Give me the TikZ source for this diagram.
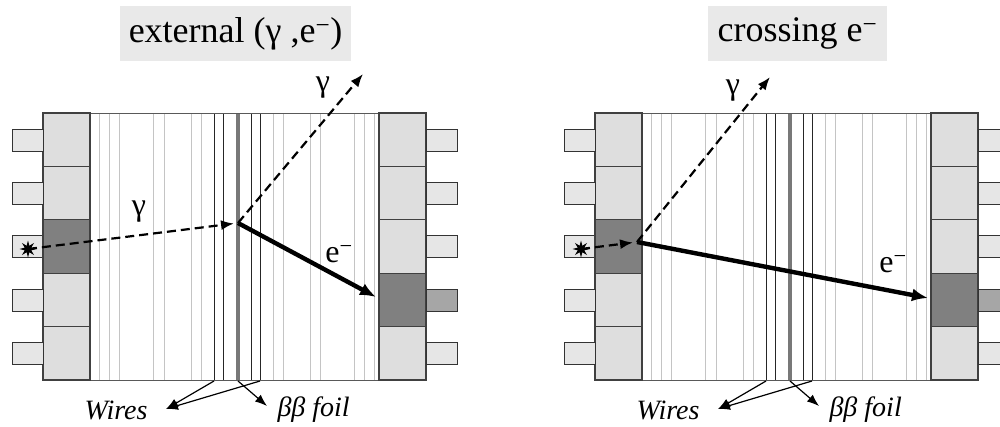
\documentclass[tikz,border=0pt]{standalone}
\usepackage{fontspec}
\setmainfont{Liberation Serif}
\usetikzlibrary{shapes.geometric,arrows.meta}

\definecolor{boxgray}{HTML}{E9E9E9}
\definecolor{blockgray}{HTML}{DEDEDE}
\definecolor{hitgray}{HTML}{808080}
\definecolor{pmtgray}{HTML}{E6E6E6}
\definecolor{pmthit}{HTML}{A6A6A6}
\definecolor{wiregray}{HTML}{C4C4C4}
\definecolor{foilgray}{HTML}{787878}

\tikzset{
  block/.style={draw=black!75, line width=1.1pt, fill=blockgray},
  pmt/.style={draw=black!80, line width=1pt, fill=pmtgray},
  wire/.style={wiregray, line width=0.8pt},
  darkwire/.style={black!85, line width=0.5pt},
  gammaray/.style={dash pattern=on 9pt off 5pt, line width=2.2pt, -{Latex[length=13pt,width=10pt]}},
  electron/.style={line width=4.4pt, -{Latex[length=16pt,width=13pt]}},
  pointer/.style={line width=1.2pt, -{Latex[length=12pt,width=9pt]}},
  titlebox/.style={fill=boxgray, minimum height=55pt, inner sep=0pt, font=\fontsize{36}{40}\selectfont},
  partlabel/.style={font=\fontsize{32}{34}\selectfont},
  partname/.style={font=\fontsize{28}{30}\selectfont\itshape},
  source/.style={star, star points=8, star point ratio=2.4, fill=black, inner sep=0pt, minimum size=17pt}
}

\begin{document}
\begin{tikzpicture}[x=1pt,y=-1pt]
\useasboundingbox (0,0) rectangle (1000,426);

% Titles
\node[titlebox, minimum width=231pt] (titleA) at (235.5,33.5) {external (γ ,e\textsuperscript{−})};
\node[titlebox, minimum width=179pt] (titleB) at (797.5,33.5) {crossing e\textsuperscript{−}};

% Detector, same in both panels
\foreach \s in {0,552} {
  \begin{scope}[xshift=\s pt]
    % Tracker wires
    \foreach \w in {99,109,119,153,164,191,201,273,283,310,320,354,364,374}
      \draw[wire] (\w,113) -- (\w,380);
    \foreach \w in {214,223,251,260}
      \draw[darkwire] (\w,113) -- (\w,380);
    % Source foil
    \draw[foilgray, line width=4.5pt] (238,113) -- (238,380);
    % Chamber top and bottom
    \draw[black!65, line width=1pt] (90,113) -- (379,113) (90,380) -- (379,380);
    % Scintillator blocks and PMTs
    \foreach \i in {0,...,4} {
      \pgfmathsetmacro\yt{113+53.4*\i}
      \draw[block] (43,\yt) rectangle (90,\yt+53.4);
      \draw[block] (379,\yt) rectangle (426,\yt+53.4);
      \draw[pmt] (12,\yt+16) rectangle (43,\yt+38);
      \draw[pmt] (426,\yt+16) rectangle (457,\yt+38);
    }
    % Hit blocks
    \draw[block, fill=hitgray] (43,219.8) rectangle (90,273.2);
    \draw[block, fill=hitgray] (379,273.2) rectangle (426,326.6);
    \draw[pmt, fill=pmthit] (426,289.2) rectangle (457,311.2);

    % Wires and foil labels
    \node[partname, anchor=east] (wires) at (151,410) {Wires};
    \node[partname, anchor=west] (foil) at (274,410) {ββ foil};
    \coordinate (wireL) at (214,381);
    \coordinate (wireR) at (260,381);
    \coordinate (foilB) at (238,381);
    \coordinate (wiresTip) at (166,409);
    \coordinate (foilTip) at (267,406);
    \draw[pointer] (wireL) -- (wiresTip);
    \draw[pointer] (wireR) -- (wiresTip);
    \draw[pointer] (foilB) -- (foilTip);
  \end{scope}
}

% External (gamma, e-) event
\node[source] (srcA) at (28,249) {};
\coordinate (vtxA) at (238,223);
\coordinate (gamA) at (363,74);
\coordinate (elA) at (376,297);
\draw[gammaray, shorten >=4pt] (srcA.center) -- (vtxA);
\draw[gammaray] (vtxA) -- (gamA);
\draw[electron] (vtxA) -- (elA);
\node[partlabel] (gamInA) at (139,212) {γ};
\node[partlabel] (gamOutA) at (323,88) {γ};
\node[partlabel] (eA) at (339,254) {e\textsuperscript{−}};

% Crossing electron event
\node[source] (srcB) at (581,249) {};
\coordinate (vtxB) at (637,242);
\coordinate (gamB) at (770,77);
\coordinate (elB) at (928,298);
\draw[gammaray, shorten >=4pt] (srcB.center) -- (vtxB);
\draw[gammaray] (vtxB) -- (gamB);
\draw[electron] (vtxB) -- (elB);
\node[partlabel] (gamOutB) at (733,91) {γ};
\node[partlabel] (eB) at (893,264) {e\textsuperscript{−}};
\end{tikzpicture}
\end{document}
